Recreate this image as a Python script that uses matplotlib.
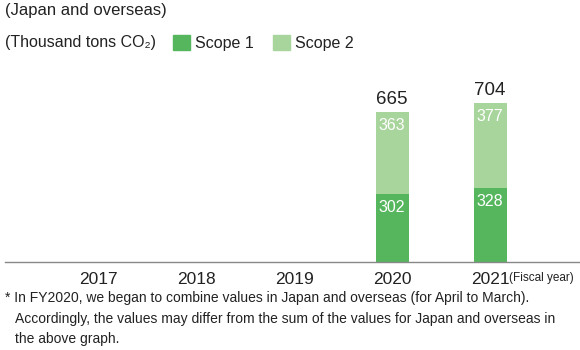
import numpy as np
import matplotlib
matplotlib.use("Agg")
import matplotlib.pyplot as plt
from matplotlib.patches import Patch

years = ["2017", "2018", "2019", "2020", "2021"]
scope1 = [np.nan, np.nan, np.nan, 302, 328]
scope2 = [np.nan, np.nan, np.nan, 363, 377]
totals = [np.nan, np.nan, np.nan, 665, 704]

notes = [
    "* In FY2020, we began to combine values in Japan and overseas (for April to March).",
    "Accordingly, the values may differ from the sum of the values for Japan and overseas in",
    "the above graph.",
]

c1 = "#56b65e"
c2 = "#a8d59c"
txt = "#222222"

plt.rcParams["font.family"] = ["Liberation Sans", "DejaVu Sans"]

W, H = 580, 350
fig = plt.figure(figsize=(W / 100, H / 100), dpi=100)


def px(x, y):
    return x / W, 1 - y / H


# axes from x=5..580, y=40..262 px
ax = fig.add_axes([5 / W, (H - 262) / H, 575 / W, 222 / H])
x = np.arange(len(years))
ax.bar(x, scope1, width=0.337, color=c1)
ax.bar(x, scope2, width=0.337, bottom=scope1, color=c2)
ax.set_xlim(-0.949, 4.918)
ax.set_ylim(0, 983)

for i in range(len(years)):
    if np.isnan(totals[i]):
        continue
    ax.text(x[i], scope1[i] - 28, f"{scope1[i]:.0f}", ha="center", va="top",
            color="white", fontsize=11.5)
    ax.text(x[i], totals[i] - 28, f"{scope2[i]:.0f}", ha="center", va="top",
            color="white", fontsize=11.5)
    ax.text(x[i], totals[i] + 18, f"{totals[i]:.0f}", ha="center", va="bottom",
            color=txt, fontsize=13.5)

for s in ["top", "right", "left"]:
    ax.spines[s].set_visible(False)
ax.spines["bottom"].set_color("#888888")
ax.spines["bottom"].set_linewidth(1)
ax.set_yticks([])
ax.set_xticks(x)
ax.set_xticklabels(years, fontsize=12.5, color=txt)
ax.tick_params(axis="x", length=0, pad=7)

fig.text(*px(509, 278), "(Fiscal year)", fontsize=8.5, va="center", ha="left",
         color=txt)

fig.text(*px(5, 11), "(Japan and overseas)", fontsize=12, va="center", color=txt)
fig.text(*px(5, 43), "(Thousand tons CO\u2082)", fontsize=11.5, va="center",
         color=txt)

handles = [Patch(color=c1, label="Scope 1"), Patch(color=c2, label="Scope 2")]
fig.legend(handles=handles, loc="center left", bbox_to_anchor=px(173, 43),
           ncol=2, frameon=False, fontsize=11.5, handlelength=1.05,
           handleheight=1.05, handletextpad=0.3, columnspacing=1.25,
           borderpad=0, borderaxespad=0, labelcolor=txt)

# footnote: squeeze each line into the width it takes in the reference
fig.canvas.draw()
renderer = fig.canvas.get_renderer()
starts = [5, 15, 15]
ys = [298, 319, 339]
widths = [552, 540, None]
size = 11
for s, y, w, line in zip(starts, ys, widths, notes):
    t = fig.text(*px(s, y), line, fontsize=size, va="center", color=txt,
                 fontstretch="condensed")
    if w is not None:
        bw = t.get_window_extent(renderer).width
        if bw > w:
            size = size * w / bw
            t.set_fontsize(size)
for t in fig.texts[-3:]:
    t.set_fontsize(size)

fig.savefig("out.png", dpi=100)
